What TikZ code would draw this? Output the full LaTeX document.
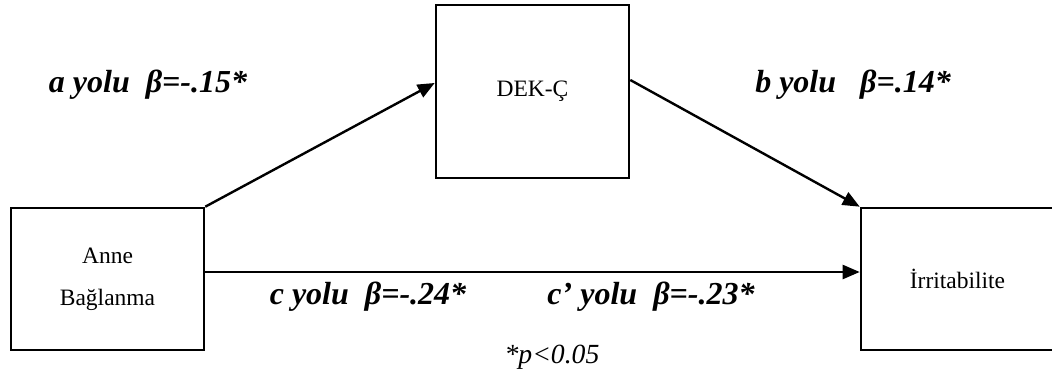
\documentclass[tikz,border=0pt]{standalone}
\usepackage{fontspec}
\setmainfont{Liberation Serif}
\usetikzlibrary{arrows.meta}

\begin{document}
\begin{tikzpicture}[x=1pt,y=-1pt]
  \useasboundingbox (0,0) rectangle (1052,386);
  \tikzset{
    box/.style={draw, line width=2.6pt, minimum width=193pt, align=center,
      font=\fontsize{23.5}{42}\selectfont},
    yol/.style={font=\fontsize{32}{36}\selectfont\bfseries\itshape},
    oku/.style={line width=2.4pt, -{Triangle[length=17pt,width=14pt]}}
  }

  \node[box, minimum height=142pt] (anne) at (107.5,279) {Anne\\Bağlanma};
  \node[box, minimum height=173pt] (dek) at (532.5,91.5) {DEK-Ç};
  \node[box, minimum height=142pt] (irr) at (957.5,279) {İrritabilite};

  \draw[oku] (anne.north east) -- ([yshift=8.5pt]dek.west);
  \draw[oku] ([yshift=11.5pt]dek.east) -- (irr.north west);
  \draw[oku] ([yshift=7pt]anne.east) -- ([yshift=7pt]irr.west);

  \node[yol] (ayol) at (148,85) {a yolu\ \ β=-.15*};
  \node[yol] (byol) at (853,85) {b yolu\ \ \ β=.14*};
  \node[yol] (cyol) at (368,297) {c yolu\ \ β=-.24*};
  \node[yol] (cpyol) at (651,297) {c’ yolu\ \ β=-.23*};
  \node[font=\fontsize{27.7}{32}\selectfont\itshape] (not) at (552,357) {*p<0.05};
\end{tikzpicture}
\end{document}
